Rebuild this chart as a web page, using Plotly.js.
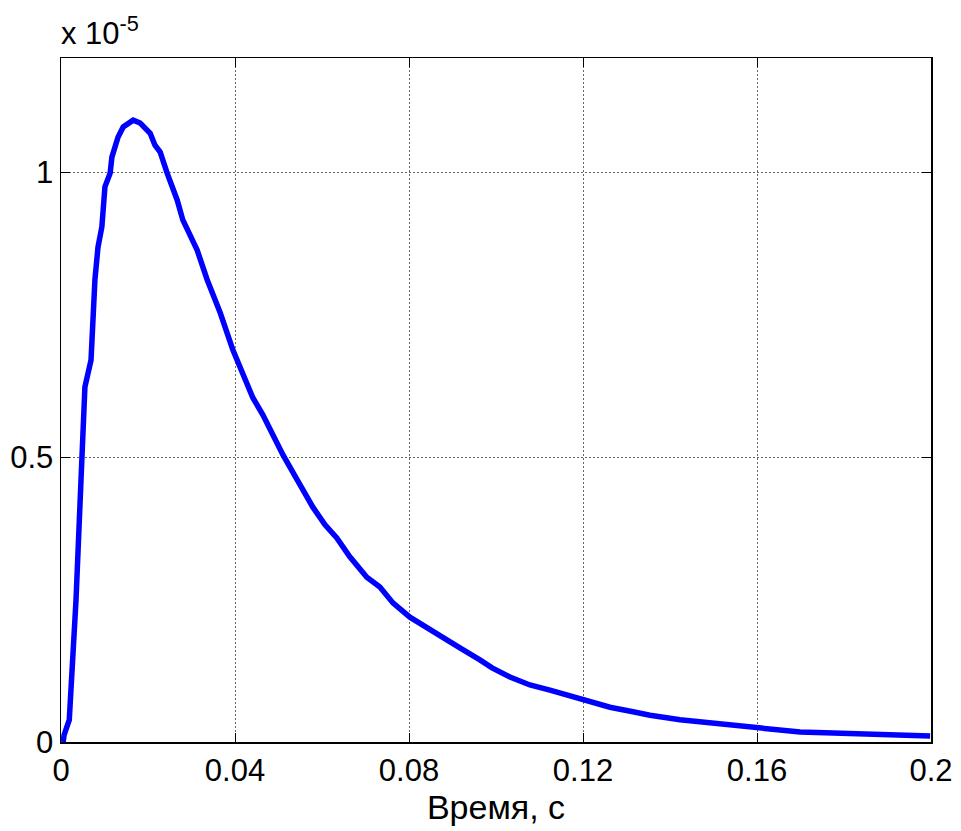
<!DOCTYPE html>
<html>
<head>
<meta charset="utf-8">
<script src="https://cdn.plot.ly/plotly-3.0.1.min.js"></script>
<style>html,body{margin:0;padding:0;background:#fff;}#chart{width:961px;height:831px;}</style>
</head>
<body>
<div id="chart"></div>
<script>
// Time, s
const time = [0.0005, 0.0007, 0.0019, 0.00345, 0.0046, 0.0055, 0.0069, 0.0074, 0.0078, 0.0085, 0.0094, 0.0101, 0.0113, 0.0117, 0.0131, 0.0143, 0.0166, 0.0182, 0.0205, 0.0216, 0.0228, 0.0244, 0.0267, 0.0280, 0.0313, 0.0336, 0.0366, 0.0395, 0.0441, 0.0464, 0.0510, 0.0543, 0.0579, 0.0607, 0.0634, 0.0664, 0.0703, 0.0733, 0.0763, 0.0802, 0.0841, 0.0878, 0.0917, 0.0963, 0.0991, 0.1032, 0.1078, 0.1124, 0.1177, 0.1223, 0.1262, 0.1315, 0.1354, 0.1423, 0.1508, 0.1600, 0.1699, 0.1775, 0.1890, 0.1998];
// Values in units of 1e-5
const value_e5 = [0, 0.012, 0.0386, 0.249, 0.46, 0.623, 0.670, 0.753, 0.811, 0.868, 0.904, 0.974, 0.998, 1.026, 1.061, 1.079, 1.091, 1.086, 1.068, 1.047, 1.035, 0.998, 0.951, 0.916, 0.863, 0.811, 0.753, 0.688, 0.604, 0.574, 0.504, 0.460, 0.412, 0.381, 0.358, 0.325, 0.289, 0.272, 0.244, 0.219, 0.200, 0.182, 0.165, 0.144, 0.130, 0.114, 0.100, 0.091, 0.079, 0.068, 0.061, 0.053, 0.047, 0.039, 0.032, 0.025, 0.0175, 0.016, 0.012, 0.0105];
const xTicks = [0, 0.04, 0.08, 0.12, 0.16, 0.2];
const xTickText = ['0', '0.04', '0.08', '0.12', '0.16', '0.2'];
const yTicks = [0, 0.5, 1];
const yTickText = ['0', '0.5', '1'];

const font = '"Liberation Sans", Arial, Helvetica, sans-serif';

const trace = {
  x: time, y: value_e5, type: 'scatter', mode: 'lines',
  line: {color: '#0000ff', width: 5.5}, hoverinfo: 'skip'
};

const layout = {
  width: 961, height: 831,
  margin: {l: 61, r: 30, t: 58, b: 89},
  paper_bgcolor: '#ffffff', plot_bgcolor: '#ffffff',
  showlegend: false,
  font: {family: font, color: '#000', size: 31},
  xaxis: {
    range: [0, 0.2], tickvals: xTicks, ticktext: xTickText,
    showgrid: true, gridcolor: '#666', griddash: '2px,2px', gridwidth: 1,
    zeroline: false, showline: true, linecolor: '#000', linewidth: 1.5, mirror: 'ticks',
    ticks: 'inside', ticklen: 9, tickcolor: '#000', tickwidth: 1,
    tickfont: {family: font, size: 31, color: '#000'},
    title: {text: 'Время, с', font: {family: font, size: 34, color: '#000'}, standoff: 8}
  },
  yaxis: {
    range: [0, 1.2], tickvals: yTicks, ticktext: yTickText,
    showgrid: true, gridcolor: '#666', griddash: '2px,2px', gridwidth: 1,
    zeroline: false, showline: true, linecolor: '#000', linewidth: 1.5, mirror: 'ticks',
    ticks: 'inside', ticklen: 9, tickcolor: '#000', tickwidth: 1,
    tickfont: {family: font, size: 31, color: '#000'}
  },
  annotations: [{
    xref: 'paper', yref: 'paper', x: 0, y: 1, xanchor: 'left', yanchor: 'bottom',
    yshift: 5, xshift: -2, showarrow: false,
    text: 'x 10<sup>-5</sup>', font: {family: font, size: 31, color: '#000'}
  }]
};

Plotly.newPlot('chart', [trace], layout, {staticPlot: true, displayModeBar: false});
</script>
</body>
</html>
